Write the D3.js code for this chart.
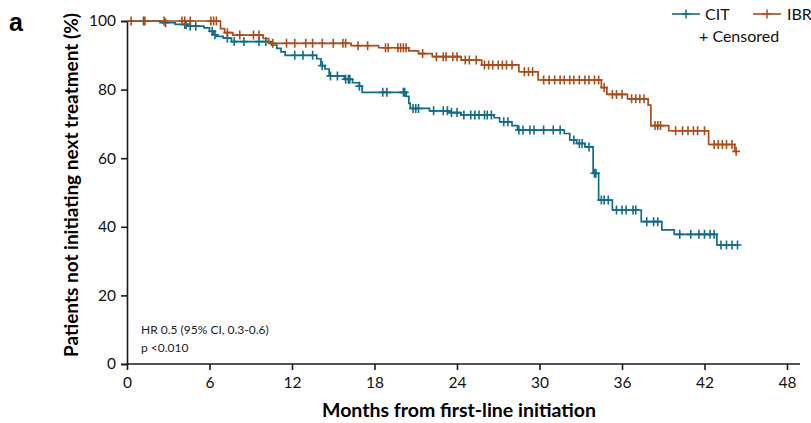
<!DOCTYPE html>
<html lang="en">
<head>
  <meta charset="UTF-8">
  <title>time to next treatment</title>
  <script src="https://d3js.org/d3.v7.min.js"></script>
  <style>
    body { margin: 0; background: #fff; }
    text { font-family: Lato, "Open Sans", sans-serif; }
  </style>
</head>
<body>
  <svg id="km" width="811" height="423"></svg>

  <script>
    // step points: [month, % not initiating next treatment] (value after the step)
    const citSteps = [[0, 100], [2.4, 99.5], [3.5, 99], [4.6, 98.5], [5.6, 98], [6.0, 97], [6.3, 96], [6.5, 95.5],
      [7.0, 95], [7.6, 94], [10.5, 93], [10.9, 92], [11.2, 91], [11.5, 90], [13.8, 89], [14.1, 87], [14.4, 86],
      [14.7, 84], [15.8, 83], [16.4, 82], [16.9, 81], [17.1, 79.2], [20.3, 78], [20.5, 76], [20.6, 74.5],
      [22.0, 73.8], [23.5, 73.3], [24.3, 72.6], [26.7, 71.8], [27.1, 70.6], [28.0, 69.5], [28.4, 68.2],
      [31.8, 67.2], [32.2, 65.3], [32.7, 64.3], [33.3, 63.3], [33.9, 55.6], [34.3, 47.8], [35.3, 44.9],
      [37.4, 41.5], [38.9, 39.1], [39.8, 37.8], [42.9, 34.7], [44.4, 34.7]];
    const citCensored = [1.2, 2.8, 4.2, 4.3, 4.6, 5.0, 6.2, 6.4, 7.3, 7.8, 8.5, 9.6, 10.1, 12.2, 12.8, 13.5, 14.2,
      14.8, 15.3, 15.9, 16.1, 16.2, 16.9, 18.6, 18.9, 20.1, 20.2, 20.8, 21.0, 21.2, 22.3, 23.0, 23.3, 23.6, 24.0,
      24.5, 25.0, 25.3, 25.6, 26.0, 26.2, 26.5, 27.4, 27.7, 28.5, 28.8, 29.3, 29.6, 30.3, 31.0, 31.5, 32.5, 32.9,
      33.1, 33.6, 34.0, 34.1, 34.5, 34.7, 35.0, 35.6, 36.0, 36.3, 36.8, 37.0, 37.8, 38.3, 38.6, 40.2, 41.0, 41.6,
      42.0, 42.4, 42.7, 43.2, 43.6, 44.0, 44.4];

    const ibrSteps = [[0, 100], [6.8, 97.8], [7.1, 96.6], [7.7, 95.9], [9.9, 94.9], [10.3, 93.5], [16.3, 92.8],
      [18.3, 92.2], [20.5, 91.3], [21.2, 90.5], [22.2, 89.6], [24.3, 88.6], [25.8, 87.2], [28.5, 85.2],
      [29.9, 82.8], [34.5, 80.6], [34.9, 78.6], [36.4, 77.3], [37.9, 75.5], [38.1, 69.5], [39.4, 68.0],
      [42.3, 64.0], [44.2, 62.0], [44.3, 62.0]];
    const ibrCensored = [0.3, 1.3, 2.7, 4.0, 4.2, 4.6, 6.1, 6.3, 6.5, 7.3, 8.2, 9.2, 9.6, 10.6, 11.6, 12.2, 13.0,
      13.5, 14.2, 15.0, 15.7, 15.9, 16.8, 17.5, 18.8, 19.0, 19.7, 19.9, 20.1, 20.3, 21.5, 22.5, 23.0, 23.2, 23.7,
      24.0, 24.6, 24.9, 25.4, 26.0, 26.3, 26.6, 27.0, 27.3, 27.6, 28.0, 28.9, 29.2, 29.5, 30.3, 30.7, 31.1, 31.5,
      31.8, 32.2, 32.5, 32.9, 33.3, 33.6, 34.0, 34.3, 34.7, 35.3, 35.6, 36.0, 36.7, 37.0, 37.3, 37.6, 38.4, 38.6,
      38.8, 39.9, 40.4, 40.8, 41.2, 41.5, 42.0, 42.7, 43.0, 43.3, 43.6, 44.0, 44.3];

    const xTicks = [0, 6, 12, 18, 24, 30, 36, 42, 48];
    const yTicks = [0, 20, 40, 60, 80, 100];
    const series = [
      { name: "CIT", steps: citSteps, censored: citCensored, color: "#126c88" },
      { name: "IBR", steps: ibrSteps, censored: ibrCensored, color: "#a84d1b" }
    ];

    const svg = d3.select("#km");
    const x = d3.scaleLinear().domain([0, 48]).range([127, 787]);
    const y = d3.scaleLinear().domain([0, 100]).range([364, 21]);

    // axes
    const xAxis = svg.append("g")
      .attr("transform", "translate(0,364)")
      .call(d3.axisBottom(x).tickValues(xTicks).tickSize(6).tickPadding(4));
    xAxis.select(".domain").attr("d", "M127,0H800");
    const yAxis = svg.append("g")
      .attr("transform", "translate(127,0)")
      .call(d3.axisLeft(y).tickValues(yTicks).tickSize(6).tickPadding(5));
    svg.selectAll(".domain, .tick line").attr("stroke", "#1a1a1a").attr("stroke-width", 1.6);
    svg.selectAll(".tick text").style("font-size", "15.5px").attr("fill", "#111")
      .style("font-family", "Lato, sans-serif");
    xAxis.selectAll(".tick text").attr("dy", "0.9em");

    // curves
    const stepLine = d3.line().x(d => x(d[0])).y(d => y(d[1])).curve(d3.curveStepAfter);
    const plusPath = "M-4,0H4M0,-4.5V4.5";

    function valueAt(steps, t) {
      let v = steps[0][1];
      for (const s of steps) { if (s[0] <= t) v = s[1]; }
      return v;
    }

    series.forEach(s => {
      svg.append("path")
        .attr("d", stepLine(s.steps))
        .attr("fill", "none")
        .attr("stroke", s.color)
        .attr("stroke-width", 1.7);
      svg.append("g").selectAll("path")
        .data(s.censored)
        .join("path")
        .attr("transform", d => `translate(${x(d)},${y(valueAt(s.steps, d))})`)
        .attr("d", plusPath)
        .attr("stroke", s.color)
        .attr("stroke-width", 1.6);
    });

    // legend
    const legend = svg.append("g");
    [{ s: series[0], lx: 672, tx: 705 }, { s: series[1], lx: 753, tx: 787 }].forEach(l => {
      legend.append("line").attr("x1", l.lx).attr("x2", l.lx + 28).attr("y1", 14).attr("y2", 14)
        .attr("stroke", l.s.color).attr("stroke-width", 1.6);
      legend.append("path").attr("transform", `translate(${l.lx + 14},14)`).attr("d", plusPath)
        .attr("stroke", l.s.color).attr("stroke-width", 1.5);
      legend.append("text").attr("x", l.tx).attr("y", 20).text(l.s.name)
        .style("font-size", "16px").attr("fill", "#111");
    });
    legend.append("text").attr("x", 699).attr("y", 42).text("+ Censored")
      .style("font-size", "16px").attr("fill", "#111");

    // titles and notes
    svg.append("text").attr("x", 9).attr("y", 31).text("a")
      .style("font-family", "Arial, 'Liberation Sans', sans-serif")
      .style("font-size", "25px").style("font-weight", "bold");
    svg.append("text")
      .attr("transform", "translate(78,185) rotate(-90)")
      .attr("text-anchor", "middle")
      .text("Patients not initiating next treatment (%)")
      .style("font-size", "19px").style("font-weight", "bold");
    svg.append("text").attr("x", 459).attr("y", 417).attr("text-anchor", "middle")
      .text("Months from first-line initiation")
      .style("font-size", "19.5px").style("font-weight", "bold");
    svg.append("text").attr("x", 141).attr("y", 334).text("HR 0.5 (95% CI, 0.3-0.6)")
      .style("font-size", "12px").attr("fill", "#222");
    svg.append("text").attr("x", 141).attr("y", 352).text("p <0.010")
      .style("font-size", "12px").attr("fill", "#222");
  </script>
</body>
</html>
